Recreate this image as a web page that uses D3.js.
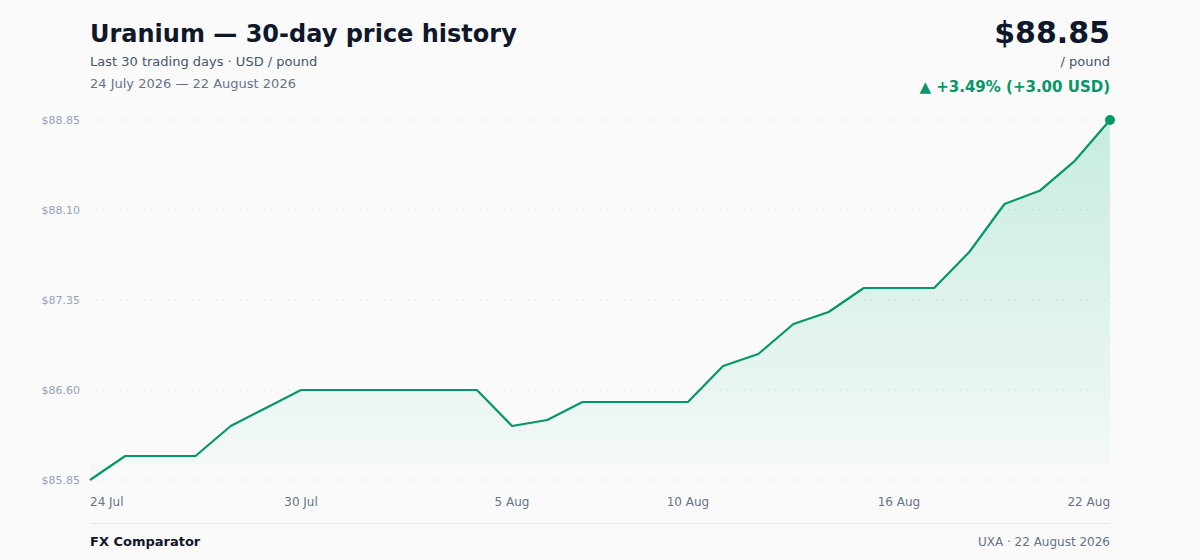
<!DOCTYPE html>
<html>
<head>
<meta charset="utf-8">
<script src="https://cdn.jsdelivr.net/npm/d3@7"></script>
<style>
    html, body { margin: 0; padding: 0; background: #fafafa; }
    svg { display: block; font-family: "DejaVu Sans", sans-serif; }
</style>
</head>
<body>
<svg id="chart" width="1200" height="560"></svg>
<script>
// daily closes, 24 Jul 2026 .. 22 Aug 2026
const dates = [
    "2026-07-24", "2026-07-25", "2026-07-26", "2026-07-27", "2026-07-28", "2026-07-29",
    "2026-07-30", "2026-07-31", "2026-08-01", "2026-08-02", "2026-08-03", "2026-08-04",
    "2026-08-05", "2026-08-06", "2026-08-07", "2026-08-08", "2026-08-09", "2026-08-10",
    "2026-08-11", "2026-08-12", "2026-08-13", "2026-08-14", "2026-08-15", "2026-08-16",
    "2026-08-17", "2026-08-18", "2026-08-19", "2026-08-20", "2026-08-21", "2026-08-22"
];
const prices = [
    85.85, 86.05, 86.05, 86.05, 86.30, 86.45,
    86.60, 86.60, 86.60, 86.60, 86.60, 86.60,
    86.30, 86.35, 86.50, 86.50, 86.50, 86.50,
    86.80, 86.90, 87.15, 87.25, 87.45, 87.45,
    87.45, 87.75, 88.15, 88.26, 88.51, 88.85
];
const yTicks = [85.85, 86.60, 87.35, 88.10, 88.85];
const xTickDates = ["2026-07-24", "2026-07-30", "2026-08-05", "2026-08-10", "2026-08-16", "2026-08-22"];

const green = "#059669";
const fillGreen = "#10b981";
const parse = d3.timeParse("%Y-%m-%d");

let data = dates.map(function (d, i) {
    return {date: parse(d), price: prices[i]};
});

const svg = d3.select("#chart");
const margin = {top: 120, right: 90, bottom: 80, left: 90};
const width = 1200 - margin.left - margin.right;
const height = 560 - margin.top - margin.bottom;

let x = d3.scaleTime()
    .domain(d3.extent(data, function (d) { return d.date; }))
    .range([0, width]);

let y = d3.scaleLinear()
    .domain([yTicks[0], yTicks[yTicks.length - 1]])
    .range([height, 0]);

// header
const first = prices[0];
const last = prices[prices.length - 1];
const change = last - first;

svg.append("text").attr("x", 90).attr("y", 42)
    .attr("font-size", 24).attr("font-weight", "bold").attr("fill", "#0f172a")
    .text("Uranium — 30-day price history");
svg.append("text").attr("x", 90).attr("y", 66)
    .attr("font-size", 13).attr("fill", "#475569")
    .text("Last 30 trading days · USD / pound");
svg.append("text").attr("x", 90).attr("y", 88)
    .attr("font-size", 13).attr("fill", "#64748b")
    .text("24 July 2026 — 22 August 2026");

svg.append("text").attr("x", 1110).attr("y", 43).attr("text-anchor", "end")
    .attr("font-size", 30).attr("font-weight", "bold").attr("fill", "#0f172a")
    .text("$" + last.toFixed(2));
svg.append("text").attr("x", 1110).attr("y", 66).attr("text-anchor", "end")
    .attr("font-size", 13).attr("fill", "#475569")
    .text("/ pound");
svg.append("text").attr("x", 1110).attr("y", 92).attr("text-anchor", "end")
    .attr("font-size", 15).attr("font-weight", "bold").attr("fill", green)
    .text("▲ +" + (change / first * 100).toFixed(2) + "% (+" + change.toFixed(2) + " USD)");

// gradient for the area
let defs = svg.append("defs");
let grad = defs.append("linearGradient")
    .attr("id", "areaFill")
    .attr("x1", 0).attr("y1", 0).attr("x2", 0).attr("y2", 1);
grad.append("stop").attr("offset", "0%").attr("stop-color", fillGreen).attr("stop-opacity", 0.22);
grad.append("stop").attr("offset", "100%").attr("stop-color", fillGreen).attr("stop-opacity", 0.02);

let g = svg.append("g").attr("transform", "translate(" + margin.left + "," + margin.top + ")");

// grid lines + y labels
g.selectAll(".grid")
    .data(yTicks)
    .enter().append("line")
    .attr("class", "grid")
    .attr("x1", 0).attr("x2", width)
    .attr("y1", function (d) { return y(d); })
    .attr("y2", function (d) { return y(d); })
    .attr("stroke", "#e2e8f0")
    .attr("stroke-width", 1)
    .attr("stroke-dasharray", "2,4");

g.selectAll(".ylabel")
    .data(yTicks)
    .enter().append("text")
    .attr("class", "ylabel")
    .attr("x", -10)
    .attr("y", function (d) { return y(d); })
    .attr("dy", "0.35em")
    .attr("text-anchor", "end")
    .attr("font-size", 11)
    .attr("fill", "#94a3b8")
    .text(function (d) { return "$" + d.toFixed(2); });

// area + line
let area = d3.area()
    .x(function (d) { return x(d.date); })
    .y0(height - 15)
    .y1(function (d) { return y(d.price); });

g.append("path")
    .datum(data)
    .attr("d", area)
    .attr("fill", "url(#areaFill)");

let line = d3.line()
    .x(function (d) { return x(d.date); })
    .y(function (d) { return y(d.price); });

g.append("path")
    .datum(data)
    .attr("d", line)
    .attr("fill", "none")
    .attr("stroke", green)
    .attr("stroke-width", 2.2)
    .attr("stroke-linejoin", "round");

g.append("circle")
    .attr("cx", x(data[data.length - 1].date))
    .attr("cy", y(last))
    .attr("r", 5)
    .attr("fill", green);

// x labels
const fmt = d3.timeFormat("%-d %b");
g.selectAll(".xlabel")
    .data(xTickDates.map(parse))
    .enter().append("text")
    .attr("class", "xlabel")
    .attr("x", function (d) { return x(d); })
    .attr("y", height + 26)
    .attr("text-anchor", function (d, i) {
        if (i === 0) return "start";
        if (i === xTickDates.length - 1) return "end";
        return "middle";
    })
    .attr("font-size", 12)
    .attr("fill", "#64748b")
    .text(function (d) { return fmt(d); });

// footer
svg.append("line")
    .attr("x1", 90).attr("x2", 1110)
    .attr("y1", 523.5).attr("y2", 523.5)
    .attr("stroke", "#e5e7eb").attr("stroke-width", 1);
svg.append("text").attr("x", 90).attr("y", 546)
    .attr("font-size", 13).attr("font-weight", "bold").attr("fill", "#0f172a")
    .text("FX Comparator");
svg.append("text").attr("x", 1110).attr("y", 546).attr("text-anchor", "end")
    .attr("font-size", 12).attr("fill", "#64748b")
    .text("UXA · 22 August 2026");
</script>
</body>
</html>
